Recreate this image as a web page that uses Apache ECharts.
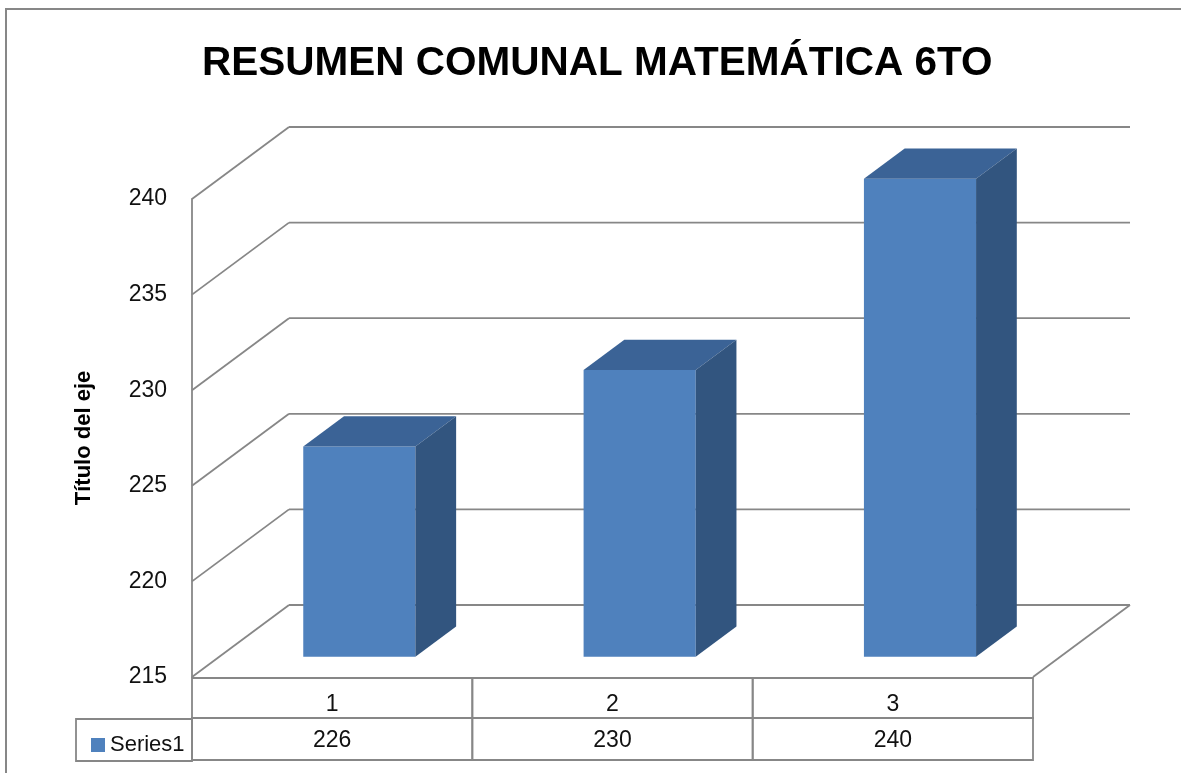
<!DOCTYPE html>
<html>
<head>
<meta charset="utf-8">
<title>Resumen comunal</title>
<script src="https://cdn.jsdelivr.net/npm/echarts@6/dist/echarts.min.js"></script>
<style>
	html, body { margin: 0; padding: 0; background: #fff; }
	#chartBox { width: 1181px; height: 773px; }
</style>
</head>
<body>
<div id="chartBox"></div>
<script>
// datos
const titleText = 'RESUMEN COMUNAL MATEMÁTICA 6TO'
const yAxisName = 'Título del eje'
const seriesName = 'Series1'
const categories = ['1', '2', '3']
const values = [226, 230, 240]
const yTicks = [215, 220, 225, 230, 235, 240]

const yMin = 215
const yMax = 240
const lineColor = '#878787'
const fontFamily = 'Liberation Sans'
// desplazamiento de profundidad (efecto 3D)
const DX = 97
const DY = -72

const chartBox = echarts.init(document.getElementById('chartBox'))

// paredes: lineas de la pared izquierda, pared del fondo y piso
const renderWall = (params, api) => {
	const cs = params.coordSys
	const v = api.value(1)
	const y = api.coord([0, v])[1]
	const x0 = cs.x
	const x1 = cs.x + cs.width
	const style = { stroke: lineColor, lineWidth: 1.8 }
	const children = [
		{ type: 'line', shape: { x1: x0, y1: y, x2: x0 + DX, y2: y + DY }, style },
		{ type: 'line', shape: { x1: x0 + DX, y1: y + DY, x2: x1 + DX, y2: y + DY }, style },
	]
	if (v === yMin) {
		children.push({ type: 'line', shape: { x1: x1, y1: y, x2: x1 + DX, y2: y + DY }, style })
	}
	return { type: 'group', children }
}

// barras 3D
const renderBar = (params, api) => {
	const i = api.value(0)
	const top = api.coord([i, api.value(1)])
	const base = api.coord([i, yMin])
	const bw = api.size([1, 0])[0] * 0.4
	const f = 0.28, d = 0.42
	const x0 = top[0] - bw / 2 + DX * f
	const x1 = x0 + bw
	const yT = top[1] + DY * f
	const yB = base[1] + DY * f
	const ddx = DX * d, ddy = DY * d
	return {
		type: 'group',
		children: [
			{ type: 'rect', shape: { x: x0, y: yT, width: bw, height: yB - yT }, style: { fill: '#4F81BD' } },
			{ type: 'polygon', shape: { points: [[x0, yT], [x1, yT], [x1 + ddx, yT + ddy], [x0 + ddx, yT + ddy]] }, style: { fill: '#3B6396' } },
			{ type: 'polygon', shape: { points: [[x1, yT], [x1 + ddx, yT + ddy], [x1 + ddx, yB + ddy], [x1, yB]] }, style: { fill: '#32557F' } },
		]
	}
}

// tabla de datos bajo el eje
const rowH = 42
const renderTable = (params, api) => {
	const cs = params.coordSys
	const c = api.coord([api.value(0), yMin])
	const bw = api.size([1, 0])[0]
	const yb = cs.y + cs.height + 1
	const style = { fill: 'none', stroke: lineColor, lineWidth: 1.8 }
	return {
		type: 'group',
		children: [
			{ type: 'rect', shape: { x: c[0] - bw / 2, y: yb, width: bw, height: rowH - 2 }, style },
			{ type: 'rect', shape: { x: c[0] - bw / 2, y: yb + rowH - 2, width: bw, height: rowH }, style },
		]
	}
}

const option = {
	backgroundColor: '#fff',
	animation: false,
	title: {
		text: titleText,
		left: 197,
		top: 38,
		textStyle: { fontFamily, fontSize: 40.5, fontWeight: 'bold', color: '#000' },
	},
	legend: {
		left: 86,
		top: 729,
		icon: 'rect',
		itemWidth: 14,
		itemHeight: 14,
		itemGap: 6,
		textStyle: { fontFamily, fontSize: 22, color: '#111' },
		data: [seriesName],
	},
	grid: { left: 192, right: 148, top: 199, bottom: 96 },
	xAxis: [
		{
			type: 'category',
			data: categories,
			axisLine: { show: false },
			axisTick: { show: false },
			axisLabel: { fontFamily, fontSize: 23, color: '#111', margin: 16 },
		},
		{
			type: 'category',
			data: categories,
			position: 'bottom',
			offset: 42,
			axisLine: { show: false },
			axisTick: { show: false },
			axisLabel: { fontFamily, fontSize: 23, color: '#111', margin: 10, formatter: (val, idx) => values[idx] },
		},
	],
	yAxis: {
		type: 'value',
		min: yMin,
		max: yMax,
		interval: 5,
		name: yAxisName,
		nameLocation: 'middle',
		nameGap: 97,
		nameTextStyle: { fontFamily, fontSize: 22, fontWeight: 'bold', color: '#000' },
		axisLine: { show: true, lineStyle: { color: lineColor, width: 1.8 } },
		axisTick: { show: false },
		splitLine: { show: false },
		axisLabel: { fontFamily, fontSize: 23, color: '#111', margin: 25 },
	},
	graphic: [
		// borde del grafico
		{ type: 'rect', shape: { x: 6, y: 9, width: 1200, height: 800 }, style: { fill: 'none', stroke: lineColor, lineWidth: 2 } },
		// celda de leyenda
		{ type: 'rect', shape: { x: 76, y: 719, width: 116, height: 42 }, style: { fill: 'none', stroke: lineColor, lineWidth: 1.8 } },
	],
	series: [
		{ type: 'custom', name: 'wall', renderItem: renderWall, data: yTicks.map(v => [0, v]), silent: true, z: 1 },
		{ type: 'custom', name: 'table', renderItem: renderTable, data: categories.map((c, i) => [i, yMin]), silent: true, z: 1 },
		{ type: 'custom', name: seriesName, renderItem: renderBar, itemStyle: { color: '#4F81BD' }, data: values.map((v, i) => [i, v]), z: 2 },
	],
}

chartBox.setOption(option)
</script>
</body>
</html>
